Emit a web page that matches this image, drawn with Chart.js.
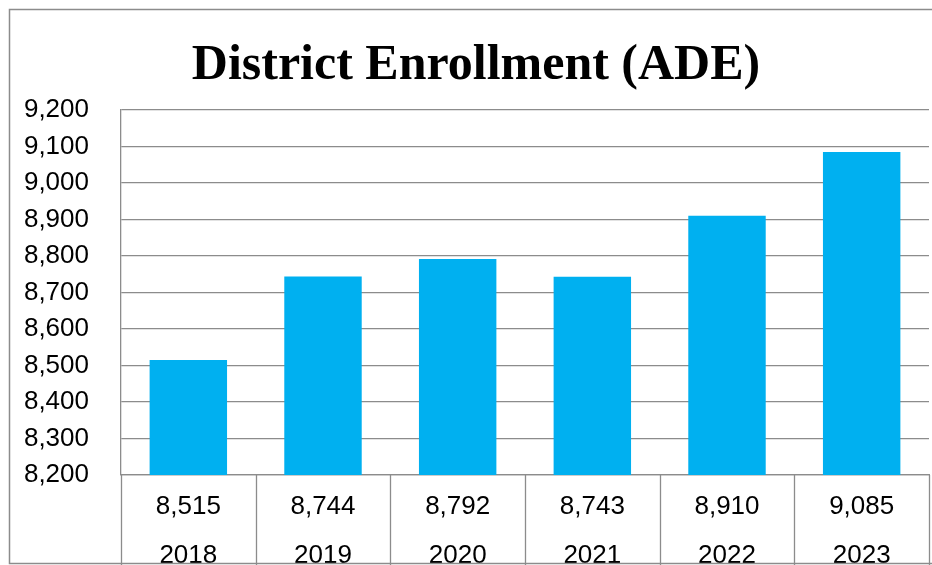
<!DOCTYPE html>
<html>
<head>
<meta charset="utf-8">
<script src="https://cdn.jsdelivr.net/npm/chart.js@4.4.1/dist/chart.umd.min.js"></script>
<style>
  html, body { margin: 0; padding: 0; background: #fff; }
</style>
</head>
<body>
<canvas id="enrollChart" width="932" height="565"></canvas>
<script>
/* ---------- data ---------- */
const years = ['2018', '2019', '2020', '2021', '2022', '2023'];
const enrollment = [8515, 8744, 8792, 8743, 8910, 9085];
const yMin = 8200;
const yMax = 9200;
const yStep = 100;

const barBlue = '#00B0F0';
const lineGray = '#8c8c8c';
const fmt = v => v.toLocaleString('en-US');

/* ---------- frame + data table under the bars ---------- */
const dataTable = {
    id: 'dataTable',
    beforeDraw(chart) {
        const ctx = chart.ctx;
        ctx.save();
        ctx.fillStyle = '#fff';
        ctx.fillRect(0, 0, chart.width, chart.height);
        ctx.restore();
    },
    afterDraw(chart) {
        const { ctx, chartArea, scales: { x } } = chart;
        const half = (x.getPixelForValue(1) - x.getPixelForValue(0)) / 2;

        ctx.save();
        ctx.strokeStyle = lineGray;
        ctx.lineWidth = 1.3;
        ctx.beginPath();
        for (let i = 0; i <= years.length; i++) {
            const px = Math.round(x.getPixelForValue(0) - half + i * 2 * half) + 0.5;
            ctx.moveTo(px, chartArea.bottom);
            ctx.lineTo(px, chart.height);
        }
        ctx.stroke();

        ctx.fillStyle = '#000';
        ctx.font = '26px "Liberation Sans", Arial, sans-serif';
        ctx.textAlign = 'center';
        ctx.textBaseline = 'middle';
        years.forEach((yr, i) => {
            const cx = x.getPixelForValue(i);
            ctx.fillText(fmt(enrollment[i]), cx, chartArea.bottom + 32);
            ctx.fillText(yr, cx, chartArea.bottom + 81);
        });

        // outer chart border (right edge runs off the picture)
        ctx.strokeStyle = lineGray;
        ctx.lineWidth = 1.5;
        ctx.strokeRect(9.5, 9.5, 940, 554);
        ctx.restore();
    }
};

/* ---------- chart ---------- */
new Chart(document.getElementById('enrollChart'), {
    type: 'bar',
    data: {
        labels: years,
        datasets: [{
            label: 'Enrollment',
            data: enrollment,
            backgroundColor: barBlue,
            barPercentage: 0.575,
            categoryPercentage: 1.0
        }]
    },
    options: {
        responsive: false,
        animation: false,
        layout: { padding: { left: 23, right: 3, top: 9, bottom: 0 } },
        plugins: {
            legend: { display: false },
            tooltip: { enabled: false },
            title: {
                display: true,
                text: 'District Enrollment (ADE)',
                color: '#000',
                font: { family: '"Liberation Serif", "Times New Roman", serif', size: 50, weight: 'bold' },
                padding: { top: 27, bottom: 14 }
            }
        },
        scales: {
            x: {
                ticks: { display: false },
                grid: { drawOnChartArea: false, drawTicks: false, color: lineGray },
                border: { display: true, color: lineGray, width: 1.3 },
                afterFit: s => { s.height = 90; }
            },
            y: {
                min: yMin,
                max: yMax,
                ticks: {
                    stepSize: yStep,
                    color: '#000',
                    padding: 32,
                    font: { family: '"Liberation Sans", Arial, sans-serif', size: 26 },
                    callback: v => fmt(v)
                },
                grid: { color: lineGray, lineWidth: 1.3, drawTicks: false },
                border: { display: true, color: lineGray, width: 1.3 },
                afterFit: s => { s.width = 98; }
            }
        }
    },
    plugins: [dataTable]
});
</script>
</body>
</html>
